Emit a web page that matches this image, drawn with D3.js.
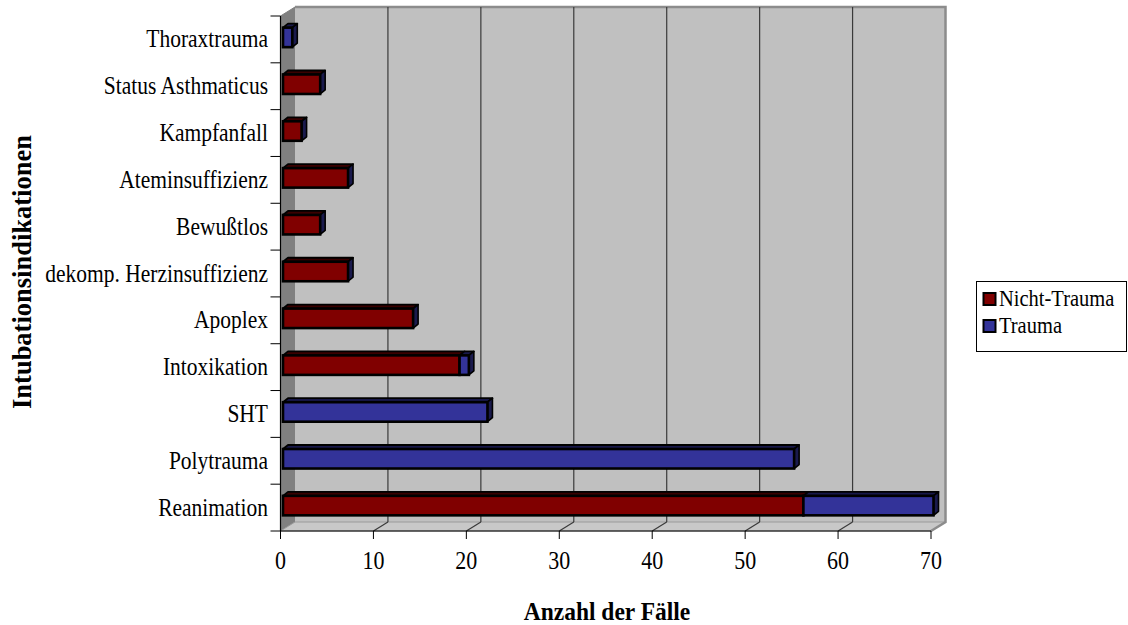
<!DOCTYPE html>
<html><head><meta charset="utf-8">
<script src="https://cdn.jsdelivr.net/npm/d3@7"></script>
<style>body{margin:0;background:#fff}svg{display:block}text{font-family:"Liberation Serif","Times New Roman",serif}</style>
</head><body><svg id="c" width="1128" height="625"></svg>
<script>
const categories = ["Thoraxtrauma","Status Asthmaticus","Kampfanfall","Ateminsuffizienz","Bewußtlos","dekomp. Herzinsuffizienz","Apoplex","Intoxikation","SHT","Polytrauma","Reanimation"];
const nichtTrauma = [0,4,2,7,4,7,14,19,0,0,56];
const trauma      = [1,0,0,0,0,0,0,1,22,55,14];
const seriesNames = ["Nicht-Trauma","Trauma"];
const xTicks = [0,10,20,30,40,50,60,70];
const xTitle = "Anzahl der Fälle";
const yTitle = "Intubationsindikationen";

(function(){
const svg = d3.select("#c");
const pL = 280.5, pR = 931, pT = 16, pB = 531;
const DX = 14.5, DY = -9;
const x = d3.scaleLinear().domain([0,70]).range([pL, pR]);
const y = d3.scaleBand().domain(categories).range([pT, pB]);

const colors = {nt:"#800000", t:"#333399", ntTop:"#3a0000", tTop:"#18184a", tSide:"#1a1a4d"};

function label(x0, y0, txt, size, anchor, sy, bold){
  const g = svg.append("g").attr("transform",`translate(${x0},${y0}) scale(1,${sy})`);
  const t = g.append("text").attr("x",0).attr("y",0).attr("text-anchor",anchor).attr("font-size",size).text(txt);
  if (bold) t.attr("font-weight","bold");
  return t;
}

// side wall
svg.append("path").attr("d", `M${pL},${pT}L${pL+DX},${pT+DY}L${pL+DX},${pB+DY}L${pL},${pB}Z`)
  .attr("fill","#808080").attr("stroke","#808080");
// back wall
svg.append("rect").attr("x",pL+DX).attr("y",pT+DY).attr("width",pR-pL).attr("height",pB-pT)
  .attr("fill","#c0c0c0");
// floor
svg.append("path").attr("d", `M${pL},${pB}L${pL+DX},${pB+DY}L${pR+DX},${pB+DY}L${pR},${pB}Z`)
  .attr("fill","#c8c8c8").attr("stroke","#9a9a9a").attr("stroke-width",1);
// back wall borders
svg.append("path").attr("d", `M${pL+DX},${pT+DY}L${pR+DX},${pT+DY}L${pR+DX},${pB+DY}L${pR},${pB}`)
  .attr("fill","none").attr("stroke","#8c8c8c").attr("stroke-width",2.5);
// gridlines
xTicks.filter(v=>v>0 && v<70).forEach(v=>{
  svg.append("line").attr("x1",x(v)+DX).attr("x2",x(v)+DX).attr("y1",pT+DY).attr("y2",pB+DY)
    .attr("stroke","#3a3a3a").attr("stroke-width",1.2);
  svg.append("line").attr("x1",x(v)).attr("x2",x(v)+DX).attr("y1",pB).attr("y2",pB+DY)
    .attr("stroke","#3a3a3a").attr("stroke-width",1.2);
});

// bars
const bx = 2.5, by = -2, bh = 19.5, bdx = 5, bdy = -4;
categories.forEach((c,i)=>{
  const cy = y(c) + y.bandwidth()/2 + by;
  const y0 = cy - bh/2, y1 = cy + bh/2;
  const segs = [{a:0,b:nichtTrauma[i],f:colors.nt,tf:colors.ntTop},{a:nichtTrauma[i],b:nichtTrauma[i]+trauma[i],f:colors.t,tf:colors.tTop}];
  const g = svg.append("g");
  segs.forEach(s=>{
    if (s.b<=s.a) return;
    const xa = x(s.a)+bx, xb = x(s.b)+bx;
    g.append("path").attr("d",`M${xa},${y0}L${xa+bdx},${y0+bdy}L${xb+bdx},${y0+bdy}L${xb},${y0}Z`)
      .attr("fill",s.tf).attr("stroke","#000").attr("stroke-width",1.8).attr("stroke-linejoin","round");
  });
  const xe = x(nichtTrauma[i]+trauma[i])+bx;
  g.append("path").attr("d",`M${xe},${y0}L${xe+bdx},${y0+bdy}L${xe+bdx},${y1+bdy}L${xe},${y1}Z`)
    .attr("fill",colors.tSide).attr("stroke","#000").attr("stroke-width",1.6).attr("stroke-linejoin","round");
  segs.forEach(s=>{
    if (s.b<=s.a) return;
    const xa = x(s.a)+bx, xb = x(s.b)+bx;
    g.append("rect").attr("x",xa).attr("y",y0).attr("width",xb-xa).attr("height",bh)
      .attr("fill",s.f).attr("stroke","#000").attr("stroke-width",2.6);
  });
});

// axes
svg.append("line").attr("x1",pL).attr("x2",pL).attr("y1",pT).attr("y2",pB).attr("stroke","#000").attr("stroke-width",1.2);
svg.append("line").attr("x1",pL).attr("x2",pR).attr("y1",pB).attr("y2",pB).attr("stroke","#000").attr("stroke-width",1.2);
const bounds = categories.map(c=>y(c)).concat([pB]);
bounds.forEach(b=>svg.append("line").attr("x1",pL-10).attr("x2",pL).attr("y1",b).attr("y2",b).attr("stroke","#000").attr("stroke-width",1));
xTicks.forEach(v=>{
  svg.append("line").attr("x1",x(v)).attr("x2",x(v)).attr("y1",pB).attr("y2",pB+8).attr("stroke","#000").attr("stroke-width",1);
  label(x(v), 569, v, 22, "middle", 1.12, false);
});
categories.forEach(c=>{
  label(268, y(c)+y.bandwidth()/2+8, c, 21.5, "end", 1.14, false);
});
label(607, 620, xTitle, 23.5, "middle", 1.05, true);
svg.append("text").attr("transform","translate(31,272) rotate(-90)").attr("text-anchor","middle").attr("font-size",26.5).attr("font-weight","bold").text(yTitle);

// legend
const lg = svg.append("g");
lg.append("rect").attr("x",976.5).attr("y",281.5).attr("width",150).attr("height",70).attr("fill","#fff").attr("stroke","#000").attr("stroke-width",1);
const lcol = [colors.nt, colors.t];
seriesNames.forEach((n,i)=>{
  const yy = 293 + i*27;
  lg.append("rect").attr("x",983.5).attr("y",yy).attr("width",12).attr("height",12).attr("fill",lcol[i]).attr("stroke","#000").attr("stroke-width",2);
  lg.append("g").attr("transform",`translate(999,${yy+13}) scale(1,1.08)`).append("text").attr("font-size",20.5).text(n);
});
})();
</script></body></html>
